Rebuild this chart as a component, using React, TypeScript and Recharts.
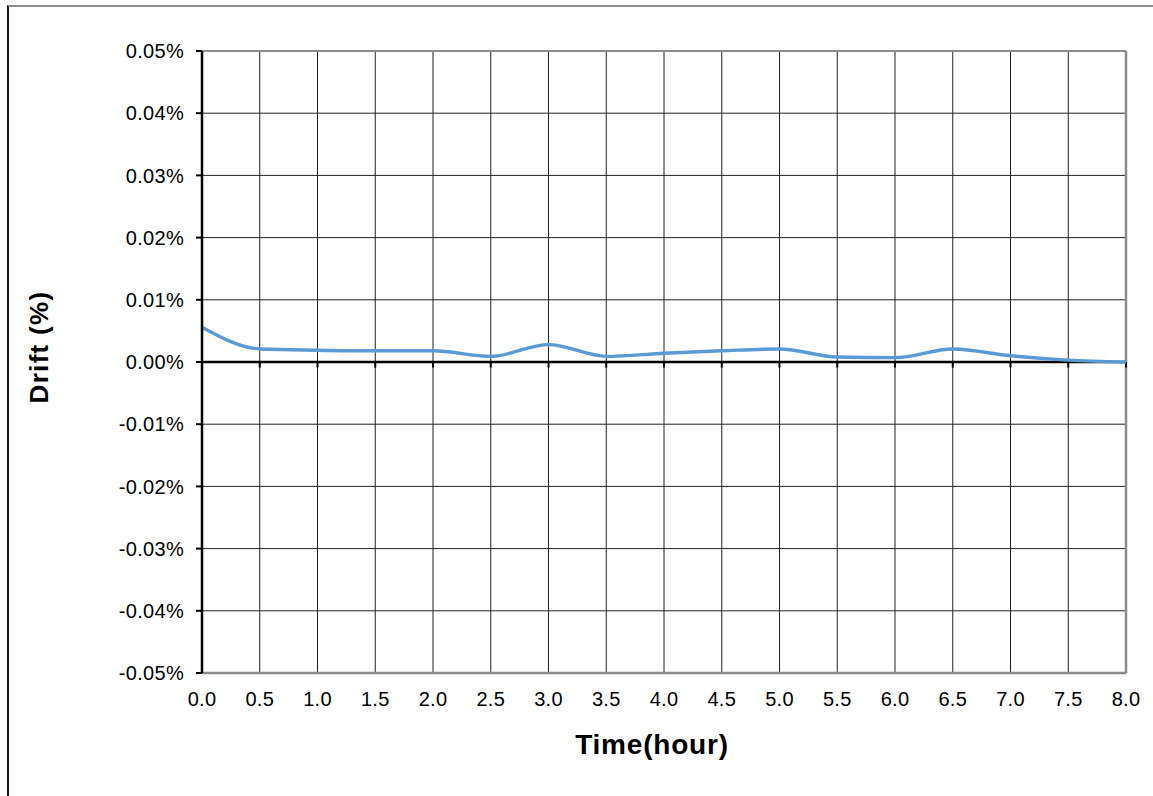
import React from 'react';
import { LineChart, Line, XAxis, YAxis, CartesianGrid, ReferenceLine } from 'recharts';

const hours = [0, 0.5, 1, 1.5, 2, 2.5, 3, 3.5, 4, 4.5, 5, 5.5, 6, 6.5, 7, 7.5, 8];
const drift = [
  0.0056, 0.0021, 0.0019, 0.0018, 0.0018, 0.0009, 0.0028, 0.0009, 0.0014,
  0.0018, 0.0021, 0.0008, 0.0007, 0.0021, 0.001, 0.0003, 0.0,
];
const xTicks = [0, 0.5, 1, 1.5, 2, 2.5, 3, 3.5, 4, 4.5, 5, 5.5, 6, 6.5, 7, 7.5, 8];
const yTicks = [-0.05, -0.04, -0.03, -0.02, -0.01, 0, 0.01, 0.02, 0.03, 0.04, 0.05];

const data = hours.map((h, i) => ({ hour: h, drift: drift[i] }));

const FONT = '"Liberation Sans", Arial, sans-serif';
const tickStyle = { fill: '#000', fontSize: 20, fontFamily: FONT, letterSpacing: 0.3 };

const fmtY = (v: number) => (Math.abs(v) < 1e-9 ? '0.00%' : `${v.toFixed(2)}%`);

export default function App() {
  return (
    <div
      style={{
        position: 'absolute',
        left: 0,
        top: 0,
        width: 1153,
        height: 796,
        overflow: 'hidden',
        background: '#fff',
        fontFamily: FONT,
      }}
    >
      <div
        style={{
          position: 'absolute',
          left: 7,
          top: 5,
          width: 1200,
          height: 850,
          borderTop: '2px solid #8c8c8c',
          borderLeft: '2px solid #1a1a1a',
        }}
      />
      <div style={{ position: 'absolute', left: 0, top: 0 }}>
        <LineChart
          width={1153}
          height={796}
          data={data}
          margin={{ top: 51, right: 27, bottom: 93, left: 122 }}
        >
          <CartesianGrid stroke="#222" strokeWidth={1} />
          <XAxis
            dataKey="hour"
            type="number"
            domain={[0, 8]}
            ticks={xTicks}
            interval={0}
            height={30}
            axisLine={false}
            tickLine={false}
            tickSize={6}
            tickMargin={13}
            tick={tickStyle}
            tickFormatter={(v: number) => v.toFixed(1)}
            label={{
              content: (props: any) => {
                const vb = props.viewBox || { x: 202, width: 924 };
                return (
                  <text
                    x={vb.x + vb.width / 2 - 12}
                    y={754}
                    textAnchor="middle"
                    fontFamily={FONT}
                    fontWeight="bold"
                    fontSize={28}
                    letterSpacing={0.8}
                    fill="#000"
                  >
                    Time(hour)
                  </text>
                );
              },
            }}
          />
          <YAxis
            type="number"
            domain={[-0.05, 0.05]}
            ticks={yTicks}
            interval={0}
            width={80}
            axisLine={{ stroke: '#000', strokeWidth: 2.5 }}
            tickLine={{ stroke: '#000', strokeWidth: 2 }}
            tickSize={6}
            tickMargin={12}
            tick={tickStyle}
            tickFormatter={fmtY}
            label={{
              content: () => (
                <text
                  x={48}
                  y={347}
                  transform="rotate(-90, 48, 347)"
                  textAnchor="middle"
                  fontFamily={FONT}
                  fontWeight="bold"
                  fontSize={26}
                  letterSpacing={1.3}
                  fill="#000"
                >
                  Drift (%)
                </text>
              ),
            }}
          />
          <ReferenceLine y={0.05} stroke="#8c8c8c" strokeWidth={2} />
          <ReferenceLine y={-0.05} stroke="#8c8c8c" strokeWidth={2.5} />
          <ReferenceLine x={8} stroke="#8c8c8c" strokeWidth={2.5} />
          <ReferenceLine y={0} stroke="#000" strokeWidth={2.5} />
          {xTicks.map((t) => (
            <ReferenceLine
              key={t}
              segment={[
                { x: t, y: 0 },
                { x: t, y: -0.0009 },
              ]}
              stroke="#000"
              strokeWidth={2}
            />
          ))}
          <Line
            type="monotone"
            dataKey="drift"
            stroke="#5b9bd5"
            strokeWidth={3.4}
            dot={false}
            isAnimationActive={false}
          />
        </LineChart>
      </div>
    </div>
  );
}
